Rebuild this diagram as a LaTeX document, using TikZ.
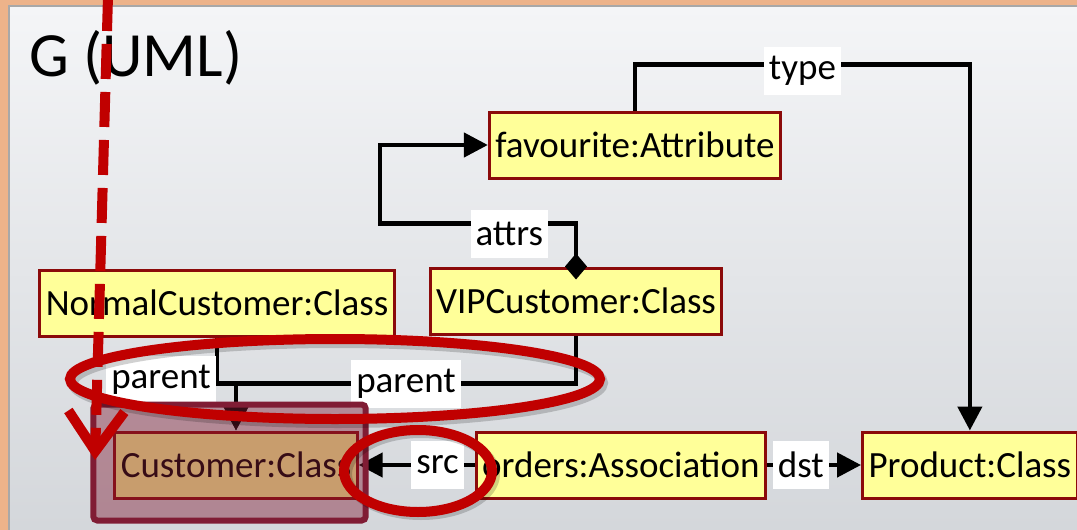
\documentclass[tikz,border=0pt]{standalone}
\usepackage{fontspec}
\setmainfont{Carlito}
\usetikzlibrary{arrows.meta,positioning,calc}
\definecolor{Frame}{HTML}{EDB38A}
\definecolor{PanelTop}{HTML}{F4F5F7}
\definecolor{PanelBot}{HTML}{D3D6DA}
\definecolor{PanelLine}{HTML}{A8A8A8}
\definecolor{BoxFill}{HTML}{FFFF99}
\definecolor{BoxLine}{HTML}{8B0A0A}
\definecolor{Mark}{HTML}{C00000}
\definecolor{Shade}{HTML}{801C34}

\begin{document}
\begin{tikzpicture}[x=1pt,y=-1pt,
      box/.style={draw=BoxLine,fill=BoxFill,line width=3pt,
        font=\fontsize{37}{40}\selectfont,minimum height=66pt,
        inner xsep=6pt,inner ysep=0pt},
      lbl/.style={fill=white,font=\fontsize{37}{40}\selectfont,
        inner xsep=5pt,inner ysep=0pt,minimum height=48pt},
      conn/.style={line width=4.5pt,-{Triangle[length=24pt,width=24pt]}},
      ring/.style={draw=Mark,line width=10pt},
      ringshadow/.style={draw=black,line width=10pt,opacity=0.18},
      hilite/.style={draw=Shade,line width=6pt,rounded corners=4pt,
        fill=Shade,fill opacity=0.43}
    ]
      % page
      \useasboundingbox (0,0) rectangle (1077,530);
      \fill[Frame] (0,0) rectangle (1077,530);
      \shade[top color=PanelTop,bottom color=PanelBot] (9,6) rectangle (1090,545);
      \draw[PanelLine,line width=1.5pt] (9,545) -- (9,6) -- (1090,6);
      \node[anchor=base west,font=\fontsize{63}{66}\selectfont,inner sep=0pt] (title) at (29,76) {G (UML)};

      % objects
      \node[box] (fav) at (635,145) {favourite:Attribute};
      \node[box] (normal) at (217,303) {NormalCustomer:Class};
      \node[box] (vip) at (576,301) {VIPCustomer:Class};
      \node[box] (customer) at (236,465) {Customer:Class};
      \node[box,right=116pt of customer] (orders) {orders:Association};
      \node[box,right=94pt of orders] (product) {Product:Class};

      % links
      \draw[conn] (fav.north) -- ([yshift=46pt]fav.north) -| (product.north)
        node[lbl,pos=0.25,yshift=-6pt] {type};
      \draw[conn,{Diamond[length=26pt,width=22pt]}-{Triangle[length=24pt,width=24pt]}]
        ([yshift=-13pt]vip.north) -- ([yshift=43pt]vip.north) -| ([xshift=-108pt]fav.west)
        node[lbl,pos=0.17,yshift=-10pt] {attrs} -- (fav.west);
      \draw[conn] (normal.south) |- ([yshift=47pt]customer.north)
        node[lbl,pos=0.46,anchor=east,xshift=1pt] {parent} -- (customer.north);
      \draw[conn] (vip.south) |- ([yshift=47pt]customer.north)
        node[lbl,pos=0.75] {parent} -- (customer.north);
      \draw[conn] (orders.west) -- (customer.east) node[lbl,pos=0.32] {src};
      \draw[conn] (orders.east) -- (product.west) node[lbl,pos=0.36] {dst};

      % highlight
      \draw[hilite] ($(customer.north west)+(-20,-26)$) rectangle ($(customer.south east)+(7,21)$);
      \draw[ringshadow] (338,383) ellipse [x radius=265, y radius=40];
      \draw[ringshadow] (421,474) ellipse [x radius=74, y radius=41];
      \draw[ring] (335,379) ellipse [x radius=265, y radius=40];
      \draw[ring] (418,471) ellipse [x radius=74, y radius=41];
      \coordinate (dropstart) at (108,-4);
      \coordinate (dropend) at (95,460);
      \draw[Mark,line width=10pt,dash pattern=on 35pt off 13pt,
        -{Straight Barb[length=40pt,width=56pt]}] (dropstart) -- (dropend);
    \end{tikzpicture}
\end{document}
